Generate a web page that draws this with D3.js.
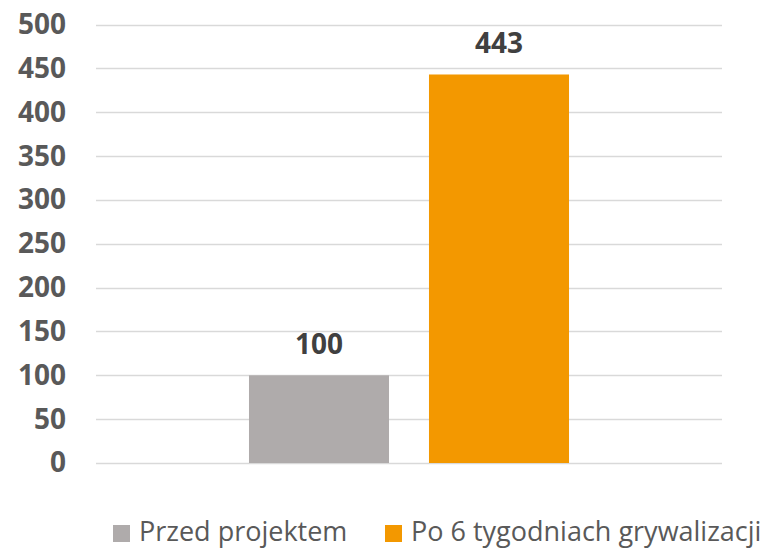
<!DOCTYPE html>
<html>
<head>
<meta charset="utf-8">
<script src="https://cdn.jsdelivr.net/npm/d3@7"></script>
<style>
  body { margin: 0; background: #fff; }
  text { font-family: "Open Sans", sans-serif; }
</style>
</head>
<body>
<div id="chart"></div>
<script>
// Data
var categories = ["wynik"];
var seriesNames = ["Przed projektem", "Po 6 tygodniach grywalizacji"];
var seriesValues = [100, 443];
var seriesColors = ["#afabab", "#f39800"];
var yTicks = [0, 50, 100, 150, 200, 250, 300, 350, 400, 450, 500];

var width = 779, height = 550;
var margin = {top: 24.5, right: 57, bottom: 87, left: 96};

var svg = d3.select("#chart")
  .append("svg")
  .attr("width", width)
  .attr("height", height);

var x0 = d3.scaleBand()
  .domain(categories)
  .range([margin.left, width - margin.right])
  .paddingOuter(0.478);

var x1 = d3.scaleBand()
  .domain(seriesNames)
  .range([0, x0.bandwidth()])
  .paddingInner(0.222)
  .paddingOuter(0);

var y = d3.scaleLinear()
  .domain([0, 500])
  .range([height - margin.bottom, margin.top]);

// gridlines
svg.append("g")
  .selectAll("line")
  .data(yTicks)
  .join("line")
    .attr("x1", margin.left)
    .attr("x2", width - margin.right)
    .attr("y1", d => Math.round(y(d)) + 0.5)
    .attr("y2", d => Math.round(y(d)) + 0.5)
    .attr("stroke", "#d9d9d9")
    .attr("stroke-width", 1.5);

// y axis labels
var yAxis = g => g
  .attr("transform", `translate(${margin.left - 30},0)`)
  .call(d3.axisLeft(y).tickValues(yTicks).tickSize(0).tickPadding(0))
  .call(g => g.selectAll(".domain").remove())
  .call(g => g.selectAll("text")
    .attr("font-family", "'Open Sans', sans-serif")
    .attr("font-size", 28)
    .attr("font-weight", "bold")
    .attr("fill", "#595959"));

svg.append("g").call(yAxis);

var barData = seriesNames.map((s, i) => ({name: s, value: seriesValues[i], color: seriesColors[i]}));

// bars
var bars = svg.append("g")
  .selectAll("g")
  .data(categories)
  .join("g")
    .attr("transform", d => `translate(${x0(d)},0)`);

bars.selectAll("rect")
  .data(barData)
  .join("rect")
    .attr("x", d => x1(d.name))
    .attr("y", d => y(d.value))
    .attr("width", x1.bandwidth())
    .attr("height", d => y(0) - y(d.value))
    .attr("fill", d => d.color);

// data labels
bars.selectAll("text.lbl")
  .data(barData)
  .join("text")
    .attr("class", "lbl")
    .attr("x", d => x1(d.name) + x1.bandwidth() / 2)
    .attr("y", d => y(d.value) - 21)
    .attr("text-anchor", "middle")
    .attr("font-size", 28)
    .attr("font-weight", "bold")
    .attr("fill", "#404040")
    .text(d => d.value);

// legend
var legendX = [113, 385];
var legend = svg.append("g")
  .selectAll("g")
  .data(seriesNames)
  .join("g")
    .attr("transform", (d, i) => `translate(${legendX[i]},525)`);

legend.append("rect")
  .attr("width", 17)
  .attr("height", 17)
  .attr("fill", (d, i) => seriesColors[i]);

legend.append("text")
  .attr("x", 26)
  .attr("y", 16)
  .attr("font-size", 27)
  .attr("fill", "#595959")
  .text(d => d);
</script>
</body>
</html>
